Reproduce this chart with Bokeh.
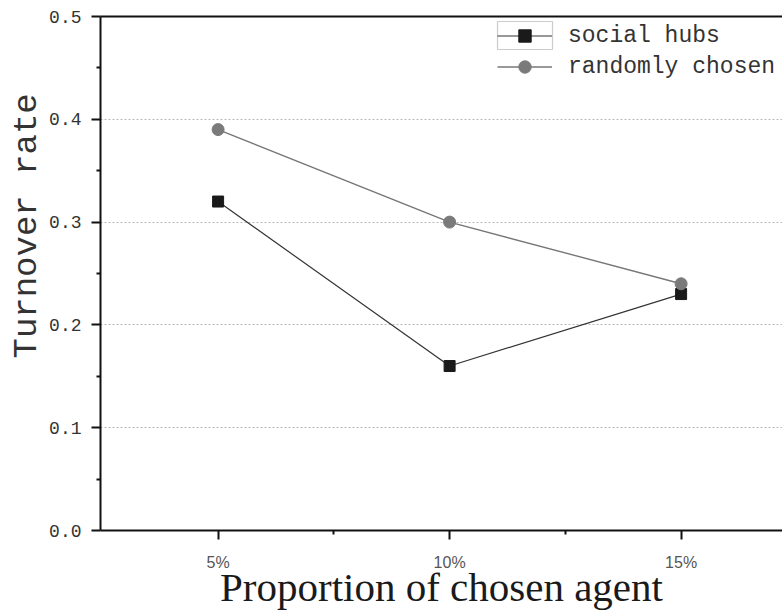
from bokeh.plotting import figure
from bokeh.models import (FixedTicker, Legend, LegendItem, LinearAxis, Range1d,
                          BoxAnnotation, Title)
from bokeh.embed import file_html
from bokeh.resources import INLINE

# ---- data ----
x_values = [5, 10, 15]
x_tick_labels = ["5%", "10%", "15%"]
social_hubs = [0.32, 0.16, 0.23]
randomly_chosen = [0.39, 0.30, 0.24]
y_ticks = [0.0, 0.1, 0.2, 0.3, 0.4, 0.5]

p = figure(width=782, height=612, output_backend="svg", toolbar_location=None,
           x_range=Range1d(2.46, 17.19), y_range=Range1d(0, 0.5),
           min_border_left=100, min_border_top=16, min_border_right=0,
           min_border_bottom=82)
p.outline_line_color = None
p.background_fill_color = "white"
p.border_fill_color = "white"

# grids
p.xgrid.visible = False
p.ygrid.ticker = FixedTicker(ticks=[0.1, 0.2, 0.3, 0.4])
p.ygrid.grid_line_color = "#b8b8b8"
p.ygrid.grid_line_dash = "2 2"
p.ygrid.grid_line_width = 1

# x axis
xa = p.xaxis[0]
xa.ticker = FixedTicker(ticks=x_values, minor_ticks=[7.5, 12.5])
xa.major_label_overrides = {v: l for v, l in zip(x_values, x_tick_labels)}
xa.axis_line_width = 2
xa.axis_line_color = "#111111"
xa.major_tick_line_width = 2
xa.major_tick_line_color = "#111111"
xa.minor_tick_line_width = 2
xa.minor_tick_line_color = "#111111"
xa.major_tick_in = 0
xa.major_tick_out = 9
xa.minor_tick_in = 0
xa.minor_tick_out = 4
xa.major_label_text_font = "Liberation Sans"
xa.major_label_text_font_size = "16px"
xa.major_label_text_color = "#555555"
xa.major_label_standoff = 14
xa.axis_label = "Proportion of chosen agent"
xa.axis_label_text_font = "Liberation Serif"
xa.axis_label_text_font_size = "41px"
xa.axis_label_text_font_style = "normal"
xa.axis_label_text_color = "#1a1a1a"
xa.axis_label_standoff = -10

# y axis
ya = p.yaxis[0]
ya.ticker = FixedTicker(ticks=y_ticks,
                        minor_ticks=[0.05, 0.15, 0.25, 0.35, 0.45])
ya.major_label_overrides = {v: f"{v:.1f}" for v in y_ticks}
ya.axis_line_width = 2
ya.axis_line_color = "#111111"
ya.major_tick_line_width = 2
ya.major_tick_line_color = "#111111"
ya.minor_tick_line_width = 2
ya.minor_tick_line_color = "#111111"
ya.major_tick_in = 0
ya.major_tick_out = 9
ya.minor_tick_in = 0
ya.minor_tick_out = 4
ya.major_label_text_font = "Liberation Mono"
ya.major_label_text_font_size = "18px"
ya.major_label_text_color = "#333333"
ya.major_label_standoff = 10

# top border
top_axis = LinearAxis(ticker=FixedTicker(ticks=[]), major_label_text_font_size="0px",
                      axis_line_width=2, axis_line_color="#111111",
                      major_tick_line_color=None, minor_tick_line_color=None)
p.add_layout(top_axis, "above")

# y axis title, shifted upward like the original
y_title = Title(text="Turnover rate", align="left", offset=172,
                text_font="Liberation Mono", text_font_size="34px",
                text_font_style="normal", text_color="#333333", standoff=2)
p.add_layout(y_title, "left")

# series
l1 = p.line(x_values, social_hubs, line_color="#333333", line_width=1.2)
m1 = p.scatter(x_values, social_hubs, marker="square", size=11,
               fill_color="#1a1a1a", line_color="#1a1a1a")
l2 = p.line(x_values, randomly_chosen, line_color="#777777", line_width=1.4)
m2 = p.scatter(x_values, randomly_chosen, marker="circle", size=12,
               fill_color="#7a7a7a", line_color="#7a7a7a")

legend = Legend(items=[LegendItem(label="social hubs", renderers=[l1, m1]),
                       LegendItem(label="randomly chosen", renderers=[l2, m2])],
                location=(397, 448), padding=0, margin=0, spacing=0,
                glyph_width=55, glyph_height=31, label_height=31,
                label_standoff=16, border_line_color=None,
                background_fill_alpha=0,
                label_text_font="Liberation Mono", label_text_font_size="23px",
                label_text_color="#333333")
p.add_layout(legend)

# box around the first legend glyph
box = BoxAnnotation(left=397, right=452, bottom=481, top=509,
                    left_units="screen", right_units="screen",
                    top_units="screen", bottom_units="screen",
                    fill_alpha=0, line_color="#555555", line_width=1.2)
p.add_layout(box)

open("out.html", "w").write(file_html(p, INLINE))
